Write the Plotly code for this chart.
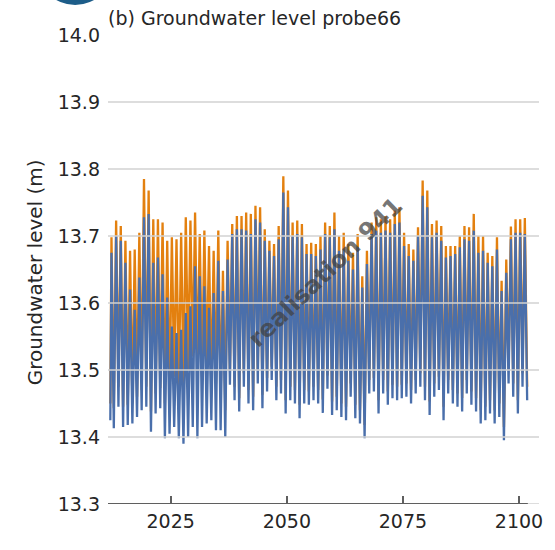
import plotly.graph_objects as go

# Groundwater level at probe 66: annual high/low levels for two model runs
years = list(range(2012, 2102))

start_level_run_a = 13.425   # blue run, first sample
start_level_run_b = 13.450   # orange run, first sample

# Annual high levels (m)
high_run_b = [
    13.698, 13.723, 13.715, 13.693, 13.678, 13.680, 13.705, 13.785, 13.768, 13.725,
    13.725, 13.720, 13.693, 13.698, 13.695, 13.705, 13.728, 13.723, 13.735, 13.703,
    13.708, 13.685, 13.678, 13.708, 13.648, 13.693, 13.718, 13.730, 13.730, 13.735,
    13.733, 13.745, 13.743, 13.710, 13.693, 13.688, 13.715, 13.789, 13.768, 13.720,
    13.723, 13.718, 13.688, 13.690, 13.688, 13.700, 13.720, 13.715, 13.735, 13.700,
    13.705, 13.688, 13.675, 13.703, 13.640, 13.678, 13.720, 13.728, 13.725, 13.730,
    13.725, 13.738, 13.743, 13.705, 13.688, 13.680, 13.713, 13.783, 13.768, 13.718,
    13.723, 13.715, 13.685, 13.685, 13.685, 13.700, 13.715, 13.713, 13.733, 13.700,
    13.700, 13.675, 13.670, 13.698, 13.633, 13.665, 13.714, 13.725, 13.725, 13.727,
]
high_run_a = [
    13.675, 13.700, 13.693, 13.660, 13.620, 13.590, 13.638, 13.728, 13.733, 13.660,
    13.668, 13.643, 13.608, 13.565, 13.555, 13.560, 13.585, 13.595, 13.655, 13.640,
    13.625, 13.593, 13.615, 13.663, 13.618, 13.665, 13.703, 13.710, 13.710, 13.708,
    13.703, 13.725, 13.720, 13.693, 13.678, 13.670, 13.695, 13.765, 13.743, 13.700,
    13.703, 13.698, 13.673, 13.673, 13.670, 13.680, 13.703, 13.698, 13.710, 13.678,
    13.680, 13.663, 13.650, 13.683, 13.623, 13.658, 13.703, 13.708, 13.705, 13.708,
    13.705, 13.718, 13.720, 13.685, 13.670, 13.663, 13.700, 13.760, 13.743, 13.698,
    13.705, 13.693, 13.668, 13.670, 13.673, 13.683, 13.695, 13.693, 13.708, 13.675,
    13.678, 13.660, 13.655, 13.680, 13.618, 13.645, 13.695, 13.705, 13.705, 13.703,
]

# Annual low levels (m)
low_run_a = [
    13.413, 13.445, 13.415, 13.418, 13.420, 13.430, 13.440, 13.445, 13.408, 13.435,
    13.443, 13.398, 13.405, 13.415, 13.398, 13.390, 13.400, 13.415, 13.398, 13.415,
    13.420, 13.425, 13.410, 13.410, 13.400, 13.478, 13.455, 13.438, 13.475, 13.450,
    13.440, 13.480, 13.443, 13.468, 13.485, 13.455, 13.465, 13.435, 13.455, 13.450,
    13.428, 13.450, 13.448, 13.455, 13.450, 13.436, 13.472, 13.433, 13.440, 13.430,
    13.425, 13.460, 13.428, 13.420, 13.398, 13.465, 13.468, 13.435, 13.465, 13.448,
    13.458, 13.455, 13.458, 13.460, 13.450, 13.465, 13.475, 13.455, 13.433, 13.460,
    13.470, 13.425, 13.465, 13.450, 13.445, 13.438, 13.465, 13.448, 13.438, 13.420,
    13.425, 13.435, 13.420, 13.430, 13.395, 13.480, 13.460, 13.435, 13.475, 13.455,
]
low_run_b = [
    13.443, 13.475, 13.445, 13.448, 13.450, 13.460, 13.470, 13.475, 13.438, 13.465,
    13.473, 13.450, 13.460, 13.490, 13.470, 13.480, 13.500, 13.520, 13.500, 13.490,
    13.500, 13.470, 13.480, 13.460, 13.440, 13.498, 13.475, 13.458, 13.495, 13.470,
    13.460, 13.500, 13.463, 13.488, 13.505, 13.475, 13.485, 13.455, 13.475, 13.470,
    13.448, 13.470, 13.468, 13.475, 13.470, 13.456, 13.492, 13.453, 13.460, 13.450,
    13.445, 13.480, 13.448, 13.440, 13.418, 13.485, 13.488, 13.455, 13.485, 13.468,
    13.478, 13.475, 13.478, 13.480, 13.470, 13.485, 13.495, 13.475, 13.453, 13.480,
    13.490, 13.445, 13.485, 13.470, 13.465, 13.458, 13.485, 13.468, 13.458, 13.440,
    13.445, 13.455, 13.440, 13.450, 13.415, 13.500, 13.480, 13.455, 13.495, 13.475,
]

y_ticks = [13.3, 13.4, 13.5, 13.6, 13.7, 13.8, 13.9, 14.0]
x_ticks = [2025, 2050, 2075, 2100]

COLOR_A = "#4a6fab"
COLOR_B = "#e3800f"
GRID = "#d2d2d2"
SPINE = "#5f5f5f"
TEXT = "#262626"
FONT = "DejaVu Sans"
FS = 19


def seasonal_path(start, highs, lows):
    """High level in spring, low level in autumn, year after year."""
    xs, ys = [years[0]], [start]
    for yr, hi, lo in zip(years, highs, lows):
        xs += [yr + 0.25, yr + 0.75]
        ys += [hi, lo]
    return xs, ys


xb, yb = seasonal_path(start_level_run_b, high_run_b, low_run_b)
xa, ya = seasonal_path(start_level_run_a, high_run_a, low_run_a)

fig = go.Figure()
fig.add_trace(go.Scatter(x=xb, y=yb, mode="lines",
                         line=dict(color=COLOR_B, width=2.3), hoverinfo="skip"))
fig.add_trace(go.Scatter(x=xa, y=ya, mode="lines",
                         line=dict(color=COLOR_A, width=2.3), hoverinfo="skip"))

x_lo, x_hi = 2011.5, 2104.3
spine_end = 2101.9

shapes = []
# horizontal grid drawn over the series
for v in y_ticks[:-1]:
    shapes.append(dict(type="line", xref="paper", yref="y", x0=0, x1=1, y0=v, y1=v,
                       line=dict(color=GRID, width=1.3), layer="above"))
# bottom spine
shapes.append(dict(type="line", xref="x", yref="y", x0=x_lo, x1=spine_end,
                   y0=y_ticks[0], y1=y_ticks[0],
                   line=dict(color=SPINE, width=2), layer="above"))
# panel badge, top left
shapes.append(dict(type="circle", xref="paper", yref="paper",
                   x0=-0.1654, x1=0.0129, y0=1.064, y1=1.2286,
                   fillcolor="#1d5d89", line=dict(width=0), layer="above"))

fig.update_layout(
    width=555, height=550,
    margin=dict(l=108, r=14, t=35, b=46),
    paper_bgcolor="white", plot_bgcolor="white",
    showlegend=False,
    font=dict(family=FONT, size=FS, color=TEXT),
    shapes=shapes,
    title=dict(text="(b) Groundwater level probe66", xref="paper", x=0, xanchor="left",
               yref="container", y=1 - 18 / 550, yanchor="middle",
               font=dict(family=FONT, size=FS, color=TEXT)),
    annotations=[
        dict(text="Groundwater level (m)", xref="paper", yref="paper",
             x=-0.1686, y=(504 - 272) / 469, textangle=-90, showarrow=False,
             xanchor="center", yanchor="middle",
             font=dict(family=FONT, size=20, color=TEXT)),
        dict(text="<b>realisation 941</b>", xref="x", yref="y",
             x=2058.4, y=13.646, textangle=-44, showarrow=False,
             font=dict(family=FONT, size=24, color="rgba(65,65,65,0.72)")),
    ],
)

fig.update_xaxes(range=[x_lo, x_hi], tickvals=x_ticks, ticktext=[str(t) for t in x_ticks],
                 ticks="inside", ticklen=8, tickwidth=1.5, tickcolor=SPINE,
                 showgrid=False, zeroline=False, showline=False,
                 ticklabelstandoff=4,
                 tickfont=dict(family=FONT, size=FS, color=TEXT))
fig.update_yaxes(range=[13.3, 14.0], tickvals=y_ticks,
                 ticktext=[f"{v:.1f}" for v in y_ticks],
                 ticks="", showgrid=False, zeroline=False, showline=False,
                 ticklabelstandoff=7,
                 tickfont=dict(family=FONT, size=FS, color=TEXT))

fig.write_html("out.html")
